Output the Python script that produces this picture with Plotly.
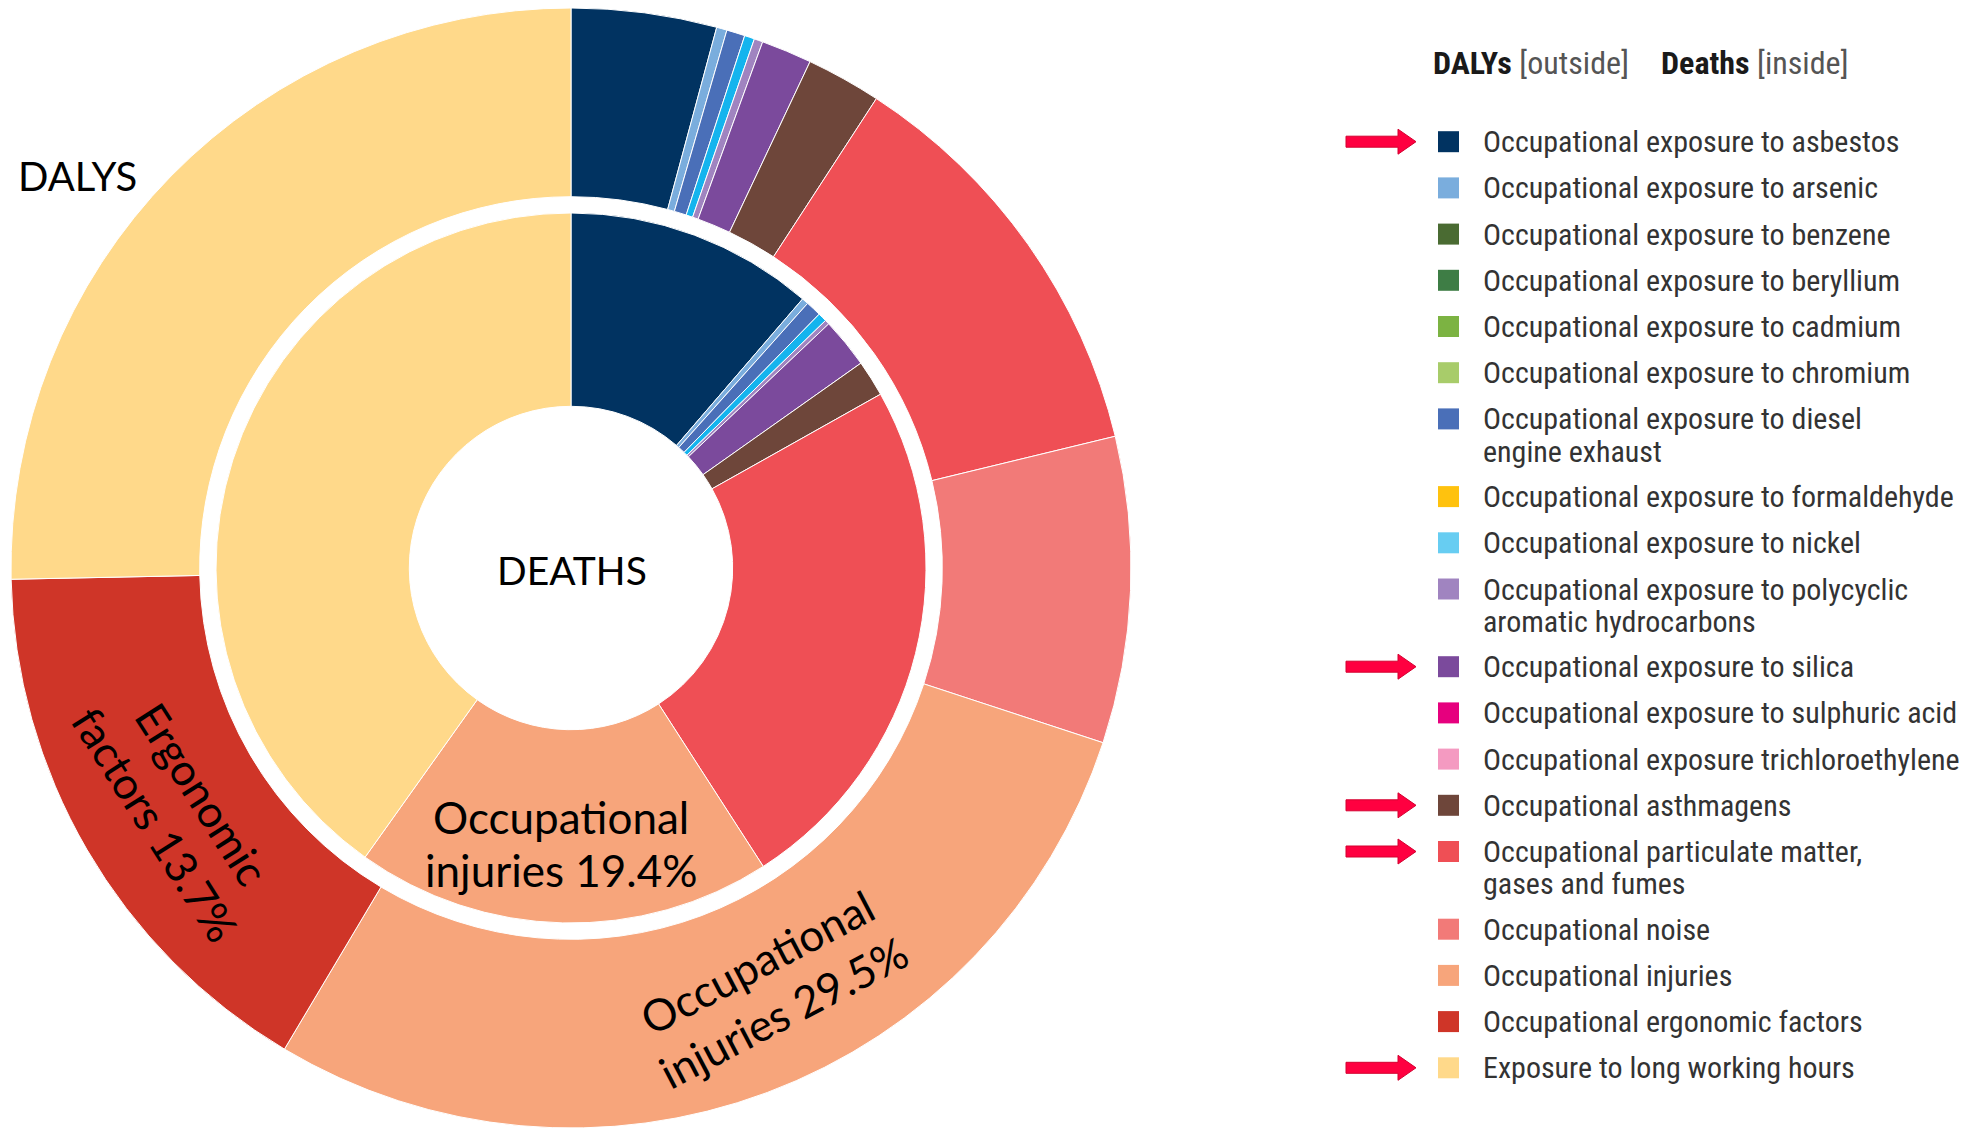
import math
import plotly.graph_objects as go

W, H = 1969, 1131
OFF = 8  # page body margin in the browser

categories = [
    "Occupational exposure to asbestos",
    "Occupational exposure to arsenic",
    "Occupational exposure to benzene",
    "Occupational exposure to beryllium",
    "Occupational exposure to cadmium",
    "Occupational exposure to chromium",
    "Occupational exposure to diesel engine exhaust",
    "Occupational exposure to formaldehyde",
    "Occupational exposure to nickel",
    "Occupational exposure to polycyclic aromatic hydrocarbons",
    "Occupational exposure to silica",
    "Occupational exposure to sulphuric acid",
    "Occupational exposure trichloroethylene",
    "Occupational asthmagens",
    "Occupational particulate matter, gases and fumes",
    "Occupational noise",
    "Occupational injuries",
    "Occupational ergonomic factors",
    "Exposure to long working hours",
]
legend_labels = [
    ["Occupational exposure to asbestos"],
    ["Occupational exposure to arsenic"],
    ["Occupational exposure to benzene"],
    ["Occupational exposure to beryllium"],
    ["Occupational exposure to cadmium"],
    ["Occupational exposure to chromium"],
    ["Occupational exposure to diesel", "engine exhaust"],
    ["Occupational exposure to formaldehyde"],
    ["Occupational exposure to nickel"],
    ["Occupational exposure to polycyclic", "aromatic hydrocarbons"],
    ["Occupational exposure to silica"],
    ["Occupational exposure to sulphuric acid"],
    ["Occupational exposure trichloroethylene"],
    ["Occupational asthmagens"],
    ["Occupational particulate matter,", "gases and fumes"],
    ["Occupational noise"],
    ["Occupational injuries"],
    ["Occupational ergonomic factors"],
    ["Exposure to long working hours"],
]
colors = [
    "#013361", "#7AADDD", "#4A6B32", "#3E7D45", "#7CB342", "#A8CC6A",
    "#4A6FB8", "#FFC20E", "#14B4EE", "#A084C0", "#7B4A9C", "#E6007E",
    "#F49AC1", "#6E463A", "#EF4F55", "#F27A78", "#F7A57B", "#CF3528",
    "#FFD98A",
]
legend_colors = [
    "#013361", "#7AADDD", "#4A6B32", "#3E7D45", "#7CB342", "#A8CC6A",
    "#4A6FB8", "#FFC20E", "#67CDF2", "#A084C0", "#7B4A9C", "#E6007E",
    "#F49AC1", "#6E463A", "#EF4F55", "#F27A78", "#F7A57B", "#CF3528",
    "#FFD98A",
]
# share of total (%)
dalys = [4.19, 0.30, 0, 0, 0, 0, 0.53, 0, 0.29, 0.25, 1.46, 0, 0, 2.16,
         12.04, 8.83, 28.50, 16.13, 25.32]
deaths = [11.32, 0.30, 0, 0, 0, 0, 0.71, 0, 0.40, 0.21, 2.28, 0, 0, 1.65,
          24.05, 0, 18.97, 0, 40.18]
highlighted = [
    "Occupational exposure to asbestos",
    "Occupational exposure to silica",
    "Occupational asthmagens",
    "Occupational particulate matter, gases and fumes",
    "Exposure to long working hours",
]
chart_labels = [
    # (lines, center x, center y, angle, size)
    (["DALYS"], 77, 176, 0, 40),
    (["DEATHS"], 572, 570, 0, 39),
    (["Occupational", "injuries 19.4%"], 561, 843.5, 0, 44),
    (["Occupational", "injuries 29.5%"], 770, 987, -27.7, 44),
    (["Ergonomic", "factors 13.7%"], 179, 809, 57.5, 44),
]


def px(x):
    return (x - OFF) / W


def py(y):
    return 1 - (y - OFF) / H


def nonzero(vals):
    idx = [i for i, v in enumerate(vals) if v > 0]
    return ([categories[i] for i in idx], [vals[i] for i in idx],
            [colors[i] for i in idx])


CX, CY = 571, 568
R_OUT, R_OUT_IN = 560, 371.3
R_IN, R_IN_IN = 355, 161.7

fig = go.Figure()
for vals, r, r_in, nm in [(dalys, R_OUT, R_OUT_IN, "DALYs"),
                          (deaths, R_IN, R_IN_IN, "Deaths")]:
    lab, val, col = nonzero(vals)
    fig.add_trace(go.Pie(
        labels=lab, values=val, sort=False, direction="clockwise", rotation=0,
        hole=r_in / r, textinfo="none", showlegend=False, name=nm,
        marker=dict(colors=col, line=dict(color="white", width=1)),
        domain=dict(x=[max(0, px(CX - r)), min(1, px(CX + r))],
                    y=[max(0, py(CY + r)), min(1, py(CY - r))]),
    ))

annotations = []
shapes = []
CH = "Lato, 'Open Sans', sans-serif"
for lines, cx, cy, ang, size in chart_labels:
    n = len(lines)
    spacing = 53 if ang == 0 else 56
    t = math.radians(ang)
    nx, ny = -math.sin(t), math.cos(t)
    for k, line in enumerate(lines):
        off = (k - (n - 1) / 2) * spacing
        annotations.append(dict(
            x=px(cx + nx * off), y=py(cy + ny * off), xanchor="center",
            yanchor="middle", text=line, showarrow=False, textangle=ang,
            font=dict(family=CH, size=size, color="black")))

LF = "'Liberation Sans Narrow', 'Arial Narrow', 'Roboto Condensed', 'DejaVu Sans Condensed', sans-serif"
annotations.append(dict(x=px(1431), y=py(63), xanchor="left", yanchor="middle",
                        text="<b>DALYs</b> <span style='color:#555'>[outside]</span>",
                        showarrow=False, font=dict(family=LF, size=32, color="#1a1a1a")))
annotations.append(dict(x=px(1659), y=py(63), xanchor="left", yanchor="middle",
                        text="<b>Deaths</b> <span style='color:#555'>[inside]</span>",
                        showarrow=False, font=dict(family=LF, size=32, color="#1a1a1a")))

y = 141.7
for i, name in enumerate(categories):
    lines = legend_labels[i]
    shapes.append(dict(type="rect", xref="paper", yref="paper",
                       x0=px(1438), x1=px(1459), y0=py(y + 10.5), y1=py(y - 10.5),
                       fillcolor=legend_colors[i], line=dict(width=0)))
    for k, line in enumerate(lines):
        annotations.append(dict(x=px(1481), y=py(y + 32.3 * k), xanchor="left",
                                yanchor="middle", text=line, showarrow=False,
                                font=dict(family=LF, size=30, color="#333333")))
    if name in highlighted:
        x0, x1, xh = 1346, 1416, 1398
        path = (f"M {px(x0)},{py(y - 5.5)} L {px(xh)},{py(y - 5.5)} "
                f"L {px(xh)},{py(y - 12.5)} L {px(x1)},{py(y)} "
                f"L {px(xh)},{py(y + 12.5)} L {px(xh)},{py(y + 5.5)} "
                f"L {px(x0)},{py(y + 5.5)} Z")
        shapes.append(dict(type="path", xref="paper", yref="paper", path=path,
                           fillcolor="#FF0040", line=dict(color="#D4002F", width=1)))
    y += 46.2 + 31.5 * (len(lines) - 1)

fig.update_layout(width=W, height=H, margin=dict(l=0, r=0, t=0, b=0),
                  paper_bgcolor="white", plot_bgcolor="white",
                  annotations=annotations, shapes=shapes, showlegend=False)
fig.write_html("out.html")
